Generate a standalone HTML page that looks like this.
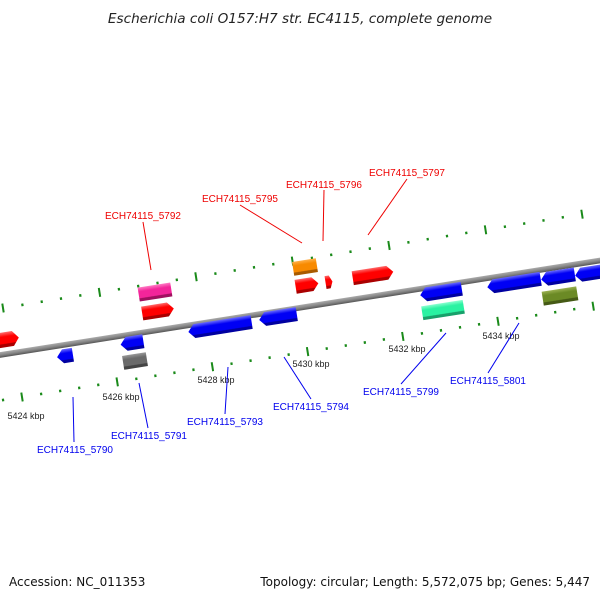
<!DOCTYPE html>
<html><head><meta charset="utf-8"><style>
html,body{margin:0;padding:0;background:#fff;}
svg{display:block;font-family:"Liberation Sans","DejaVu Sans",sans-serif;}
</style></head><body>
<svg id="s" width="600" height="600" viewBox="0 0 600 600" xmlns="http://www.w3.org/2000/svg">
<defs>
<linearGradient id="gbb" x1="0" y1="0" x2="0" y2="1"><stop offset="0" stop-color="#aaa"/><stop offset="0.5" stop-color="#888"/><stop offset="1" stop-color="#555"/></linearGradient>
</defs>
<text x="300" y="23" text-anchor="middle" font-size="13.6" font-style="italic" fill="#222" font-family="DejaVu Sans, sans-serif">Escherichia coli O157:H7 str. EC4115, complete genome</text>
<g transform="translate(0,355) rotate(-8.95)"><rect x="-20" y="-2.8" width="660" height="5.6" fill="url(#gbb)"/></g>
<g id="ticks"></g>
<g id="feat"></g>
<g font-size="9" fill="#222" text-anchor="middle">
<text x="26" y="419">5424 kbp</text>
<text x="121" y="400">5426 kbp</text>
<text x="216" y="383">5428 kbp</text>
<text x="311" y="367">5430 kbp</text>
<text x="407" y="352">5432 kbp</text>
<text x="501" y="339">5434 kbp</text>
</g>
<g stroke="#e00" stroke-width="1">
<line x1="143" y1="222" x2="151" y2="270"/>
<line x1="240" y1="205" x2="302" y2="243"/>
<line x1="324" y1="190" x2="323" y2="241"/>
<line x1="407" y1="179" x2="368" y2="235"/>
</g>
<g font-size="10" fill="#e00" text-anchor="middle">
<text x="143" y="219">ECH74115_5792</text>
<text x="240" y="202">ECH74115_5795</text>
<text x="324" y="188">ECH74115_5796</text>
<text x="407" y="176">ECH74115_5797</text>
</g>
<g stroke="#00e" stroke-width="1">
<line x1="73" y1="397" x2="74" y2="442"/>
<line x1="139" y1="383" x2="148" y2="428"/>
<line x1="228" y1="367" x2="225" y2="414"/>
<line x1="284" y1="357" x2="311" y2="399"/>
<line x1="446" y1="333" x2="401" y2="384"/>
<line x1="519" y1="323" x2="488" y2="373"/>
</g>
<g font-size="10" fill="#00e" text-anchor="middle">
<text x="75" y="453">ECH74115_5790</text>
<text x="149" y="439">ECH74115_5791</text>
<text x="225" y="425">ECH74115_5793</text>
<text x="311" y="410">ECH74115_5794</text>
<text x="401" y="395">ECH74115_5799</text>
<text x="488" y="384">ECH74115_5801</text>
</g>
<text x="9" y="586" font-size="12" fill="#111" font-family="DejaVu Sans, sans-serif">Accession: NC_011353</text>
<text x="590" y="586" font-size="12" fill="#111" text-anchor="end" font-family="DejaVu Sans, sans-serif">Topology: circular; Length: 5,572,075 bp; Genes: 5,447</text>
</svg>
<script>
var NS="http://www.w3.org/2000/svg";
var T=document.getElementById("ticks"),F=document.getElementById("feat");
function el(p,n,a){var e=document.createElementNS(NS,n);for(var k in a)e.setAttribute(k,a[k]);p.appendChild(e);return e;}
var ang=-8.95;
function row(x0,y0,sl,sp,n0,n1){
 for(var i=n0;i<=n1;i++){var x=x0+i*sp,y=y0+sl*(x-x0);var maj=(i%5==0);
  var g=el(T,"g",{transform:"translate("+x+","+y+") rotate("+ang+")"});
  if(maj)el(g,"rect",{x:-1,y:-4.5,width:2,height:9,fill:"#1a8a1a"});
  else el(g,"rect",{x:-1,y:-1.3,width:2.2,height:2.6,fill:"#1a8a1a"});}
}
row(3,308,-0.162,19.3,0,31);
row(22,397,-0.159,19.04,-5,31);
var cols={red:["#ff6a6a","#f00","#a00"],pink:["#ff7ac4","#f3259a","#a0105f"],blue:["#6a6aff","#0000f5","#0000a0"],gray:["#999","#6a6a6a","#444"],orange:["#ffb04a","#f88a00","#a85a00"],mint:["#8affd0","#2af2a2","#18a06a"],olive:["#9ab050","#6b8a25","#455a15"]};
var gid=0;
function feat(cx,cy,L,h,dir,c){
 var cs=cols[c];var id="g"+(gid++);
 var lg=el(F,"linearGradient",{id:id,x1:0,y1:0,x2:0,y2:1});
 el(lg,"stop",{offset:0,"stop-color":cs[0]});el(lg,"stop",{offset:0.3,"stop-color":cs[1]});
 el(lg,"stop",{offset:0.75,"stop-color":cs[1]});el(lg,"stop",{offset:0.8,"stop-color":cs[2]});el(lg,"stop",{offset:1,"stop-color":cs[2]});
 var g=el(F,"g",{transform:"translate("+cx+","+cy+") rotate("+ang+")"});
 var a=L/2,b=h/2,t=Math.min(6,L*0.4),p;
 if(dir>0)p=[[-a,-b],[a-t,-b],[a,0],[a-t,b],[-a,b]];
 else if(dir<0)p=[[a,-b],[-a+t,-b],[-a,0],[-a+t,b],[a,b]];
 else p=[[-a,-b],[a,-b],[a,b],[-a,b]];
 el(g,"polygon",{points:p.map(function(q){return q.join(",")}).join(" "),fill:"url(#"+id+")"});
}
feat(3,340,32,15,1,"red");
feat(155,292,33,14,0,"pink");
feat(158,311,32,14,1,"red");
feat(65,356,16,14,-1,"blue");
feat(132,343,23,14,-1,"blue");
feat(135,361,24,14,0,"gray");
feat(220,327,64,14,-1,"blue");
feat(278,317,38,14,-1,"blue");
feat(305,267,24,14,0,"orange");
feat(307,285,23,14,1,"red");
feat(329,282,7,13,1,"red");
feat(373,275,41,14,1,"red");
feat(441,292,42,14,-1,"blue");
feat(443,310,42,14,0,"mint");
feat(514,283,54,14,-1,"blue");
feat(558,277,34,14,-1,"blue");
feat(592,273,34,14,-1,"blue");
feat(560,296,35,14,0,"olive");
</script>
</body></html>
